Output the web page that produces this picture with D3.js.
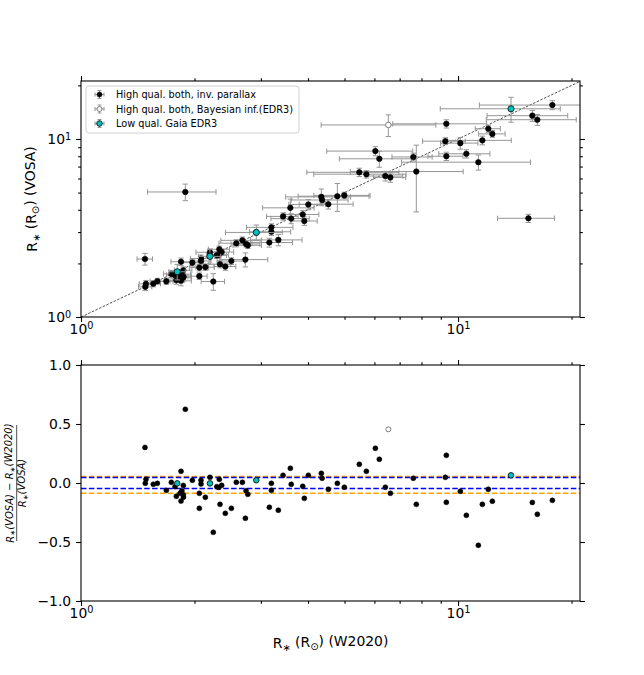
<!DOCTYPE html>
<html>
<head>
<meta charset="utf-8">
<title>R* VOSA vs W2020</title>
<script src="https://cdn.jsdelivr.net/npm/d3@7"></script>
<style>
body { margin: 0; background: #fff; }
svg text { font-family: "DejaVu Sans", sans-serif; fill: #000; }
.tick line { stroke: #000; stroke-width: 1.1; }
</style>
</head>
<body>
<div id="chart"></div>
<script>
// radius from W2020 (x) and from VOSA (y), in solar radii
var w2020 = [1.478,1.487,1.481,1.555,1.594,1.684,1.736,1.80,1.842,1.776,1.868,1.79,1.831,1.852,1.868,1.87,1.842,1.891,1.974,2.081,
  2.081,2.198,2.198,2.327,2.06,2.137,2.06,2.291,2.32,2.361,2.337,2.243,2.414,2.505,2.582,2.679,2.729,2.74,2.77,2.917,
  3.198,3.198,3.159,3.337,3.435,3.591,3.61,3.873,3.911,4.008,4.339,4.36,4.529,4.785,4.994,5.472,5.713,6.035,6.183,6.415,
  6.614,6.534,7.609,7.75,9.253,9.31,9.31,10.14,10.52,11.32,11.6,12.03,12.33,13.82,15.74,16.23,17.79,15.37];
var vosa = [2.117,1.535,1.477,1.538,1.589,1.586,1.746,1.795,2.044,1.723,1.831,1.608,1.684,1.739,1.698,1.67,1.597,5.04,2.02,2.13,
  2.064,2.309,2.191,2.401,1.895,1.906,1.696,2.222,2.237,2.315,1.979,1.582,1.92,2.062,2.598,2.695,2.101,2.573,2.527,2.986,
  3.188,3.011,2.62,2.711,3.674,4.104,3.571,3.767,3.461,4.287,4.727,4.542,4.301,4.771,4.821,6.499,6.341,8.548,7.739,6.192,
  6.085,11.99,7.926,6.562,9.72,12.17,8.0,9.477,8.257,7.408,9.822,11.42,10.68,14.78,13.52,12.83,15.51,3.585];
var w2020Err = [0.07,0.06,0.06,0.07,0.07,0.07,0.08,0.09,0.11,0.09,0.10,0.09,0.09,0.10,0.09,0.09,0.12,0.39,0.14,0.13,
  0.13,0.18,0.15,0.15,0.12,0.12,0.10,0.14,0.14,0.18,0.16,0.16,0.16,0.21,0.26,0.33,0.40,0.24,0.24,0.50,
  0.45,0.40,0.48,0.52,0.33,0.56,0.42,0.40,0.32,0.45,0.85,0.75,0.74,1.02,0.85,1.50,1.57,1.55,1.34,0.72,
  0.65,2.2,0.93,2.57,1.20,2.6,0.99,1.15,1.63,4.24,2.24,0.92,1.00,4.85,3.8,4.35,6.4,2.64];
var vosaErr = [0.16,0.07,0.07,0.06,0.06,0.06,0.08,0.18,0.10,0.08,0.08,0.08,0.10,0.08,0.08,0.08,0.10,0.54,0.09,0.10,
  0.08,0.10,0.21,0.10,0.08,0.08,0.07,0.09,0.09,0.10,0.09,0.17,0.09,0.09,0.12,0.12,0.19,0.10,0.10,0.30,
  0.15,0.14,0.15,0.20,0.17,0.49,0.23,0.19,0.19,0.28,0.51,0.18,0.26,0.85,0.20,0.35,0.30,0.50,0.80,0.38,
  0.37,1.67,0.40,2.67,0.44,0.65,0.43,0.71,0.44,0.72,0.55,0.52,0.46,2.36,0.96,0.91,0.90,0.19];
// i = high qual. inv. parallax, b = Bayesian (EDR3), l = low qual. Gaia EDR3
var sample = ["i","i","i","i","i","i","i","l","i","i", "i","i","i","i","i","i","i","i","i","i",
  "i","i","l","i","i","i","i","i","i","i", "i","i","i","i","i","i","i","i","i","l",
  "i","i","i","i","i","i","i","i","i","i", "i","i","i","i","i","i","i","i","i","i",
  "i","b","i","i","i","i","i","i","i","i", "i","i","i","l","i","i","i","i"];

var seriesNames = ["High qual. both, inv. parallax", "High qual. both, Bayesian inf.(EDR3)", "Low qual. Gaia EDR3"];
var seriesKeys = ["i", "b", "l"];
var orangeLines = [0.055, -0.087];
var blueLines = [0.046, -0.046];
var xMajor = [1, 10], xMinor = [2,3,4,5,6,7,8,9,20];
var resTicks = [-1.0, -0.5, 0.0, 0.5, 1.0];

var W = 644, H = 675;
var L = 81, R = 580, T1 = 81, B1 = 317, T2 = 365, B2 = 601;

var svg = d3.select("#chart").append("svg").attr("width", W).attr("height", H);

var x = d3.scaleLog().domain([1, 21.06]).range([L, R]);
var yTop = d3.scaleLog().domain([1, 21.17]).range([B1, T1]);
var yRes = d3.scaleLinear().domain([-1, 1]).range([B2, T2]);

var pts = w2020.map(function(v, i) {
  return { x: v, y: vosa[i], xe: w2020Err[i], ye: vosaErr[i], s: sample[i], r: (vosa[i] - v) / vosa[i] };
});

function style(s) {
  if (s == "b") return { fill: "#fff", stroke: "#808080", sw: 1 };
  if (s == "l") return { fill: "#00bfbf", stroke: "#000", sw: 0.8 };
  return { fill: "#000", stroke: "#000", sw: 0.5 };
}

svg.append("clipPath").attr("id", "c1").append("rect").attr("x", L).attr("y", T1).attr("width", R - L).attr("height", B1 - T1);
svg.append("clipPath").attr("id", "c2").append("rect").attr("x", L).attr("y", T2).attr("width", R - L).attr("height", B2 - T2);

// ---- top panel
var g1 = svg.append("g").attr("clip-path", "url(#c1)");
g1.append("line")
  .attr("x1", x(1)).attr("y1", yTop(1)).attr("x2", x(21.06)).attr("y2", yTop(21.06))
  .attr("stroke", "#222").attr("stroke-width", 0.8).attr("stroke-dasharray", "2.5,1.5");

var cap = 2.7, ebc = "#969696";
seriesKeys.forEach(function(k) {
  var d = pts.filter(function(p) { return p.s == k; });
  var gs = g1.append("g");
  d.forEach(function(p) {
    var cx = x(p.x), cy = yTop(p.y);
    var x0 = x(p.x - p.xe), x1 = x(p.x + p.xe), y0 = yTop(p.y - p.ye), y1 = yTop(p.y + p.ye);
    var e = gs.append("g").attr("stroke", ebc).attr("stroke-width", 1).attr("fill", "none");
    e.append("path").attr("d", "M" + x0 + "," + cy + "H" + x1 + "M" + cx + "," + y0 + "V" + y1);
    e.append("path").attr("d", "M" + x0 + "," + (cy - cap) + "V" + (cy + cap) + "M" + x1 + "," + (cy - cap) + "V" + (cy + cap)
      + "M" + (cx - cap) + "," + y0 + "H" + (cx + cap) + "M" + (cx - cap) + "," + y1 + "H" + (cx + cap));
  });
  var st = style(k);
  gs.selectAll("circle").data(d).enter().append("circle")
    .attr("cx", function(p) { return x(p.x); })
    .attr("cy", function(p) { return yTop(p.y); })
    .attr("r", k == "l" ? 3.1 : 2.8)
    .attr("fill", st.fill).attr("stroke", st.stroke).attr("stroke-width", st.sw);
});

// ---- bottom panel
var g2 = svg.append("g").attr("clip-path", "url(#c2)");
function hlines(vals, col) {
  g2.selectAll(null).data(vals).enter().append("line")
    .attr("x1", L).attr("x2", R)
    .attr("y1", function(v) { return yRes(v); }).attr("y2", function(v) { return yRes(v); })
    .attr("stroke", col).attr("stroke-width", 1.5).attr("stroke-dasharray", "5.5,2.4");
}
hlines(orangeLines, "orange");
hlines(blueLines, "blue");
seriesKeys.forEach(function(k) {
  var st = style(k);
  g2.append("g").selectAll("circle").data(pts.filter(function(p) { return p.s == k; })).enter().append("circle")
    .attr("cx", function(p) { return x(p.x); })
    .attr("cy", function(p) { return yRes(p.r); })
    .attr("r", k == "l" ? 2.8 : 2.5)
    .attr("fill", st.fill).attr("stroke", st.stroke).attr("stroke-width", st.sw);
});

// ---- axes
function pow10(sel) {
  sel.selectAll(".tick text").each(function(v) {
    var t = d3.select(this).text("");
    t.append("tspan").text("10");
    t.append("tspan").attr("dy", "-0.45em").attr("font-size", "9.7px").text(Math.round(Math.log10(v)));
  });
}
function logX(yPos, orient, labels) {
  var ax = (orient == "bottom" ? d3.axisBottom(x) : d3.axisTop(x));
  var g = svg.append("g").attr("transform", "translate(0," + yPos + ")");
  g.call(ax.tickValues(xMajor).tickSize(4.9).tickPadding(4.9));
  if (labels) pow10(g); else g.selectAll(".tick text").remove();
  var gm = svg.append("g").attr("transform", "translate(0," + yPos + ")");
  gm.call(ax.tickValues(xMinor).tickSize(2.8).tickFormat(""));
  [g, gm].forEach(function(s) { s.select(".domain").remove(); s.selectAll("text").attr("font-size", "13.9px"); });
  if (labels) g.selectAll(".tick text").attr("dy", "0.5em");
}
function logY(xPos, orient, labels) {
  var ax = (orient == "left" ? d3.axisLeft(yTop) : d3.axisRight(yTop));
  var g = svg.append("g").attr("transform", "translate(" + xPos + ",0)");
  g.call(ax.tickValues(xMajor).tickSize(4.9).tickPadding(4.9));
  if (labels) pow10(g); else g.selectAll(".tick text").remove();
  var gm = svg.append("g").attr("transform", "translate(" + xPos + ",0)");
  gm.call(ax.tickValues(xMinor).tickSize(2.8).tickFormat(""));
  [g, gm].forEach(function(s) { s.select(".domain").remove(); s.selectAll("text").attr("font-size", "13.9px"); });
}
logX(B1, "bottom", true); logX(T1, "top", false);
logY(L, "left", true); logY(R, "right", false);
logX(B2, "bottom", true); logX(T2, "top", false);

var fmt = function(v) { return d3.format(".1f")(v).replace("-", "\u2212"); };
var ry = svg.append("g").attr("transform", "translate(" + L + ",0)")
  .call(d3.axisLeft(yRes).tickValues(resTicks).tickSize(4.9).tickPadding(4.9).tickFormat(fmt));
ry.select(".domain").remove(); ry.selectAll("text").attr("font-size", "13.9px");
var ryr = svg.append("g").attr("transform", "translate(" + R + ",0)")
  .call(d3.axisRight(yRes).tickValues(resTicks).tickSize(4.9).tickFormat(""));
ryr.select(".domain").remove();

// spines
[[T1, B1], [T2, B2]].forEach(function(tb) {
  svg.append("rect").attr("x", L).attr("y", tb[0]).attr("width", R - L).attr("height", tb[1] - tb[0])
    .attr("fill", "none").attr("stroke", "#000").attr("stroke-width", 1.1);
});

// axis labels
function radiusLabel(sel, tail) {
  sel.append("tspan").text("R");
  sel.append("tspan").attr("dy", "0.25em").attr("font-size", "10px").text("\u2217");
  sel.append("tspan").attr("dy", "-0.25em").text(" (R");
  sel.append("tspan").attr("dy", "0.3em").attr("font-size", "10px").text("\u2299");
  sel.append("tspan").attr("dy", "-0.3em").text(") " + tail);
}
radiusLabel(svg.append("text").attr("x", (L + R) / 2).attr("y", 648).attr("text-anchor", "middle").attr("font-size", "13.9px"), "(W2020)");
radiusLabel(svg.append("text").attr("transform", "translate(37," + ((T1 + B1) / 2) + ") rotate(-90)")
  .attr("text-anchor", "middle").attr("font-size", "13.9px"), "(VOSA)");

var fr = svg.append("g").attr("transform", "translate(16.7," + ((T2 + B2) / 2) + ") rotate(-90)");
function mathR(sel, arg) {
  sel.append("tspan").attr("font-style", "italic").text("R");
  sel.append("tspan").attr("dy", "0.25em").attr("font-size", "7px").text("\u2217");
  sel.append("tspan").attr("dy", "-0.25em").attr("font-style", "italic").text("(" + arg + ")");
}
var num = fr.append("text").attr("x", 0).attr("y", -3).attr("text-anchor", "middle").attr("font-size", "10px");
mathR(num, "VOSA"); num.append("tspan").text(" \u2212 "); mathR(num, "W2020");
var den = fr.append("text").attr("x", 0).attr("y", 9.5).attr("text-anchor", "middle").attr("font-size", "10px");
mathR(den, "VOSA");
fr.append("line").attr("x1", -58).attr("x2", 58).attr("y1", 0).attr("y2", 0).attr("stroke", "#000").attr("stroke-width", 0.7);

// legend
var lg = svg.append("g");
lg.append("rect").attr("x", 86).attr("y", 86).attr("width", 213).attr("height", 47).attr("rx", 3)
  .attr("fill", "#fff").attr("fill-opacity", 0.8).attr("stroke", "#d0d0d0").attr("stroke-width", 1);
seriesKeys.forEach(function(k, i) {
  var cy = 94.5 + i * 14.5, cx = 99.5, st = style(k);
  var e = lg.append("g").attr("stroke", ebc).attr("stroke-width", 1).attr("fill", "none");
  e.append("path").attr("d", "M" + (cx - 4.5) + "," + cy + "H" + (cx + 4.5) + "M" + cx + "," + (cy - 4) + "V" + (cy + 4)
    + "M" + (cx - 4.5) + "," + (cy - 2) + "V" + (cy + 2) + "M" + (cx + 4.5) + "," + (cy - 2) + "V" + (cy + 2)
    + "M" + (cx - 2) + "," + (cy - 4) + "H" + (cx + 2) + "M" + (cx - 2) + "," + (cy + 4) + "H" + (cx + 2));
  lg.append("circle").attr("cx", cx).attr("cy", cy).attr("r", k == "l" ? 2.8 : 2.5)
    .attr("fill", st.fill).attr("stroke", st.stroke).attr("stroke-width", st.sw);
  lg.append("text").attr("x", 116).attr("y", cy + 3.5).attr("font-size", "9.72px").text(seriesNames[i]);
});
</script>
</body>
</html>
